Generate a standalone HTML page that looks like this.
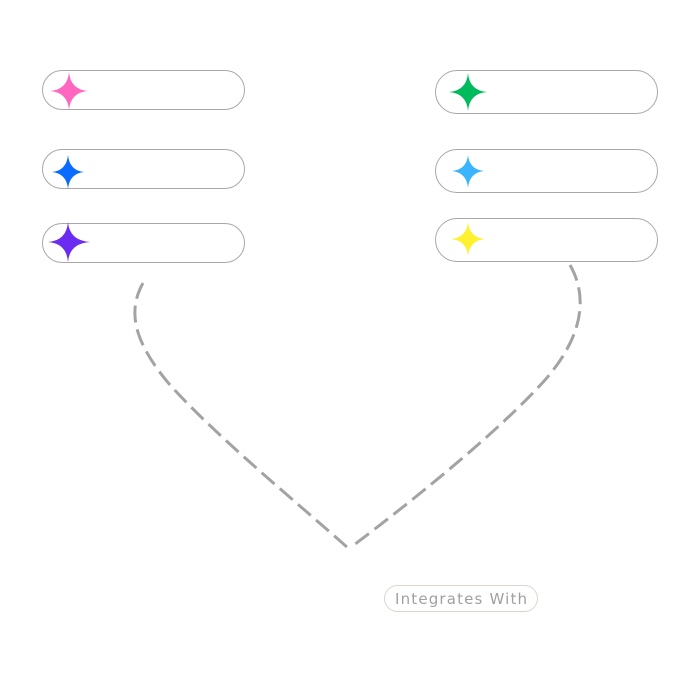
<!DOCTYPE html>
<html><head><meta charset="utf-8"><style>
html,body{margin:0;padding:0;background:#fff;}
body{width:700px;height:700px;position:relative;overflow:hidden;font-family:"Liberation Sans",sans-serif;}
</style></head><body>
<svg width="700" height="700" viewBox="0 0 700 700" xmlns="http://www.w3.org/2000/svg" style="position:absolute;left:0;top:0">
<g fill="#fff" stroke="#a8a8a8" stroke-width="1">
<rect x="42.5" y="70.5" width="202" height="39" rx="19.5"/>
<rect x="42.5" y="149.5" width="202" height="39" rx="19.5"/>
<rect x="42.5" y="223.5" width="202" height="39" rx="19.5"/>
<rect x="435.5" y="70.5" width="222" height="43" rx="21.5"/>
<rect x="435.5" y="149.5" width="222" height="43" rx="21.5"/>
<rect x="435.5" y="218.5" width="222" height="43" rx="21.5"/>
</g>
<g>
<path d="M69,72 Q70.5,89.5 88,91 Q70.5,92.5 69,110 Q67.5,92.5 50,91 Q67.5,89.5 69,72Z" fill="#ff66bf"/>
<path d="M68,155 Q69.5,170.5 84,172 Q69.5,173.5 68,189 Q66.5,173.5 52,172 Q66.5,170.5 68,155Z" fill="#0a6cff"/>
<path d="M68,222 Q69.5,240.5 90,242 Q69.5,243.5 68,262 Q66.5,243.5 48,242 Q66.5,240.5 68,222Z" fill="#6a2cf0"/>
<path d="M468,73 Q469.5,90.5 487,92 Q469.5,93.5 468,111 Q466.5,93.5 449,92 Q466.5,90.5 468,73Z" fill="#00bb5c"/>
<path d="M468,155 Q469.5,169.5 484,171 Q469.5,172.5 468,188 Q466.5,172.5 452,171 Q466.5,169.5 468,155Z" fill="#3ab4ff"/>
<path d="M468,222 Q469.5,237.5 485,239 Q469.5,240.5 468,256 Q466.5,240.5 451,239 Q466.5,237.5 468,222Z" fill="#fff030"/>
</g>
<g fill="none" stroke="#a3a3a3" stroke-width="3" stroke-dasharray="17 7">
<path d="M143,283 C128,310 132,340 170,385 C220,440 300,505 348,548"/>
<path d="M570,265 C590,300 580,340 545,380 C500,430 420,495 350,548"/>
</g>
<rect x="384.5" y="585.5" width="153" height="26" rx="13" fill="#fff" stroke="#ddd5cc" stroke-width="1"/>
<text x="461" y="604" text-anchor="middle" font-family="DejaVu Sans, sans-serif" font-size="15" fill="#a0a0a0" textLength="132">Integrates With</text>
</svg>
</body></html>
